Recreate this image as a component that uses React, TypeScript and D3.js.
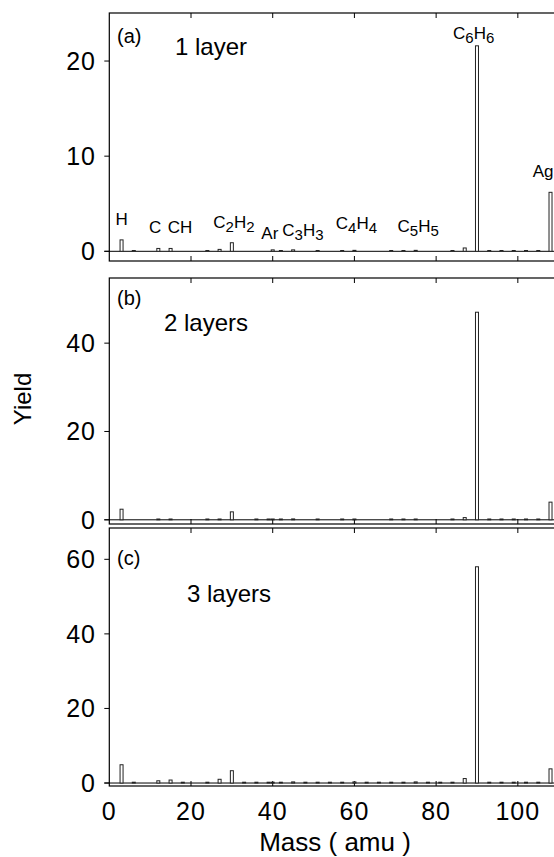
import React from "react";
import * as d3 from "d3";

// ---- data ----
const posA = [3, 6, 12, 15, 24, 27, 30, 40, 42, 45, 51, 57, 60, 69, 72, 75, 84, 87, 90, 93, 96, 99, 102, 105, 108];
const yieldA = [1.2, 0, 0.3, 0.3, 0, 0.2, 0.9, 0.15, 0, 0.15, 0, 0, 0.1, 0, 0, 0.1, 0, 0.35, 21.6, 0, 0, 0, 0, 0, 6.2];

const posB = [3, 12, 15, 24, 27, 30, 36, 39, 40, 42, 45, 51, 57, 60, 69, 72, 75, 84, 87, 90, 93, 96, 99, 102, 105, 108];
const yieldB = [2.4, 0.15, 0.15, 0, 0.15, 1.8, 0, 0, 0.1, 0, 0.2, 0, 0, 0.15, 0, 0, 0.15, 0, 0.5, 47, 0, 0, 0, 0.1, 0, 4.0];

const posC = [3, 6, 12, 15, 18, 24, 27, 30, 33, 36, 39, 40, 42, 45, 48, 51, 54, 57, 60, 63, 66, 69, 72, 75, 78, 81, 84, 87, 90, 93, 96, 99, 102, 105, 108];
const yieldC = [4.9, 0, 0.6, 0.8, 0, 0, 1.0, 3.3, 0, 0, 0, 0.1, 0, 0.3, 0, 0, 0, 0, 0.3, 0, 0, 0, 0, 0.3, 0, 0, 0, 1.2, 58, 0, 0, 0.2, 0.2, 0, 3.8];

const xTicks = [0, 20, 40, 60, 80, 100];
const yTicksA = [0, 10, 20];
const yTicksB = [0, 20, 40];
const yTicksC = [0, 20, 40, 60];

const panelTags = ["(a)", "(b)", "(c)"];
const panelTitles = ["1 layer", "2 layers", "3 layers"];

// peak labels: alternating [main, subscript, main, subscript]
const peakNames = [
  ["H"], ["C"], ["CH"], ["C", "2", "H", "2"], ["Ar"], ["C", "3", "H", "3"],
  ["C", "4", "H", "4"], ["C", "5", "H", "5"], ["C", "6", "H", "6"], ["Ag"],
];
const peakX = [3, 11.2, 17.3, 30.5, 39.3, 47.4, 60.5, 75.6, 89.2, 106.2];
const peakY = [2.8, 1.9, 1.9, 2.5, 1.3, 1.6, 2.3, 2.0, 22.3, 7.8];

const FONT = "'Liberation Sans', Arial, sans-serif";

const x = d3.scaleLinear().domain([0, 109]).range([109.3, 554.6]);

type Panel = {
  pos: number[];
  vals: number[];
  ticks: number[];
  dom: [number, number];
  top: number;
  bottom: number;
  tagY: number;
  titleX: number;
  titleY: number;
};

const panels: Panel[] = [
  { pos: posA, vals: yieldA, ticks: yTicksA, dom: [-1.02, 25.05], top: 13, bottom: 261, tagY: 43, titleX: 175, titleY: 55 },
  { pos: posB, vals: yieldB, ticks: yTicksB, dom: [-0.95, 54.75], top: 278, bottom: 524, tagY: 305, titleX: 164, titleY: 331 },
  { pos: posC, vals: yieldC, ticks: yTicksC, dom: [-0.8, 68.4], top: 528, bottom: 786, tagY: 565, titleX: 187, titleY: 602 },
];

function PanelView({ p, i }: { p: Panel; i: number }) {
  const y = d3.scaleLinear().domain(p.dom).range([p.bottom, p.top]);
  const bw = 3;
  const x0 = x.range()[0];
  const x1 = 560;
  return (
    <g>
      <rect x={x0} y={p.top} width={x1 - x0} height={p.bottom - p.top} fill="none" stroke="#000" strokeWidth={1.2} />
      <line x1={x0 - 5} x2={x1} y1={y(0)} y2={y(0)} stroke="#000" strokeWidth={1} />
      {p.ticks.map((t) => (
        <g key={t}>
          <line x1={x0 - 5} x2={x0} y1={y(t)} y2={y(t)} stroke="#000" strokeWidth={1} />
          <text x={96} y={y(t) + 9} textAnchor="end" fontSize={25} letterSpacing={1} fontFamily={FONT} fill="#000">
            {t}
          </text>
        </g>
      ))}
      {xTicks.slice(1).map((t) => (
        <g key={t}>
          <line x1={x(t)} x2={x(t)} y1={p.top} y2={p.top + 5} stroke="#000" strokeWidth={1} />
          <line x1={x(t)} x2={x(t)} y1={p.bottom} y2={p.bottom - 5} stroke="#000" strokeWidth={1} />
        </g>
      ))}
      {p.pos.map((m, k) => {
        const v = p.vals[k];
        const h = Math.max(y(0) - y(v), 0.8);
        return (
          <rect key={k} x={x(m) - bw / 2} y={y(0) - h} width={bw} height={h} fill="#fff" stroke="#222" strokeWidth={1} />
        );
      })}
      <text x={117} y={p.tagY} fontSize={20} fontFamily={FONT} fill="#000">
        {panelTags[i]}
      </text>
      <text x={p.titleX} y={p.titleY} fontSize={24} fontFamily={FONT} fill="#000">
        {panelTitles[i]}
      </text>
      {i === 0 &&
        peakNames.map((parts, k) => (
          <text key={k} x={x(peakX[k])} y={y(peakY[k])} textAnchor="middle" fontSize={17} fontFamily={FONT} fill="#000">
            {parts.map((s, j) =>
              j % 2 === 1 ? (
                <tspan key={j} fontSize={15} dy={4}>
                  {s}
                </tspan>
              ) : (
                <tspan key={j} dy={j === 0 ? 0 : -4}>
                  {s}
                </tspan>
              )
            )}
          </text>
        ))}
    </g>
  );
}

export default function App() {
  return (
    <svg width={554} height={857} style={{ position: "absolute", left: 0, top: 0, background: "#fff" }}>
      <rect x={0} y={0} width={554} height={857} fill="#fff" />
      {panels.map((p, i) => (
        <PanelView key={i} p={p} i={i} />
      ))}
      {xTicks.map((t) => (
        <text key={t} x={x(t)} y={820} textAnchor="middle" fontSize={25} letterSpacing={1} fontFamily={FONT} fill="#000">
          {t}
        </text>
      ))}
      <text x={335} y={851} textAnchor="middle" fontSize={26} fontFamily={FONT} fill="#000">
        Mass ( amu )
      </text>
      <text transform="translate(31,399) rotate(-90)" textAnchor="middle" fontSize={24} fontFamily={FONT} fill="#000">
        Yield
      </text>
    </svg>
  );
}
